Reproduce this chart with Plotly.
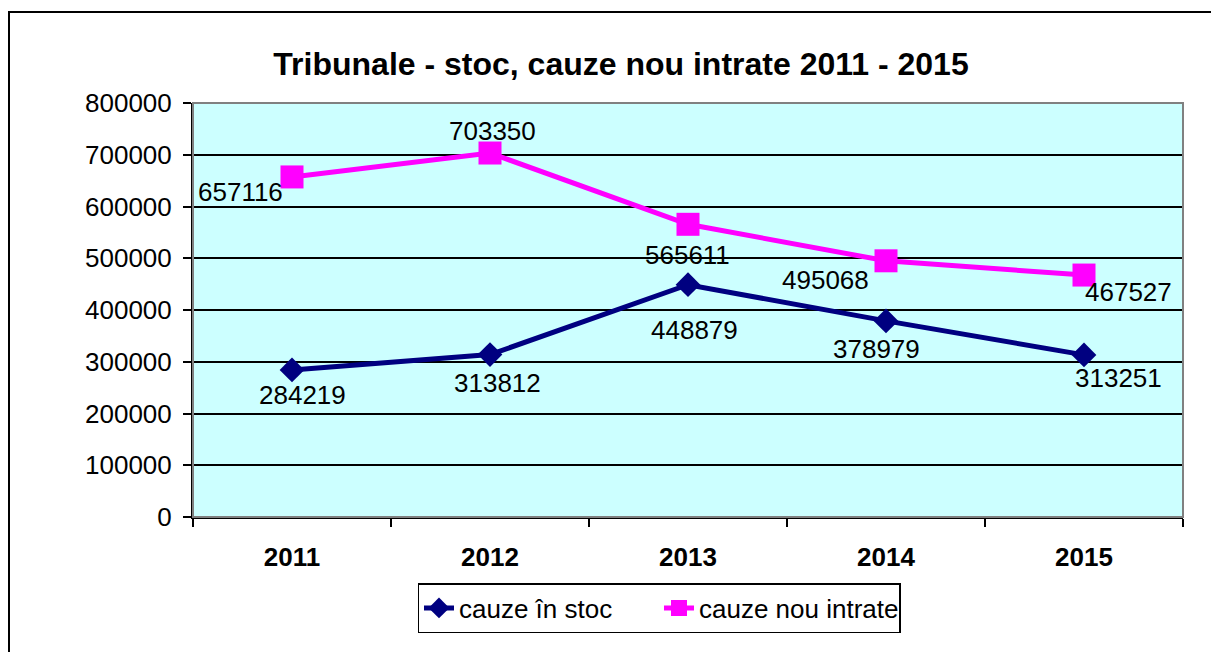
import plotly.graph_objects as go

years = ["2011", "2012", "2013", "2014", "2015"]
stoc = [284219, 313812, 448879, 378979, 313251]
nou = [657116, 703350, 565611, 495068, 467527]
y_ticks = [0, 100000, 200000, 300000, 400000, 500000, 600000, 700000, 800000]

FONT = "Liberation Sans, Arial, sans-serif"

# label offsets (pixels) for each point
stoc_shift = [(10, -25), (7, -28), (6, -45), (-10, -28), (34, -23)]
nou_shift = [(-52, -15), (2, 22), (-1, -31), (-61, -19), (44, -17)]

fig = go.Figure()
fig.add_trace(go.Scatter(
    x=years, y=stoc, mode="lines+markers", name="cauze în stoc",
    line=dict(color="#000080", width=5),
    marker=dict(symbol="diamond", size=19, color="#000080"),
))
fig.add_trace(go.Scatter(
    x=years, y=nou, mode="lines+markers", name="cauze nou intrate",
    line=dict(color="#FF00FF", width=5),
    marker=dict(symbol="square", size=23, color="#FF00FF"),
))

annotations = []
for vals, shifts in [(stoc, stoc_shift), (nou, nou_shift)]:
    for i, (v, (dx, dy)) in enumerate(zip(vals, shifts)):
        annotations.append(dict(
            x=i, y=v, xref="x", yref="y", text=str(v), showarrow=False,
            xshift=dx, yshift=dy, font=dict(family=FONT, size=26, color="black"),
        ))

shapes = [
    # outer chart frame
    dict(type="rect", xref="paper", yref="paper",
         x0=(9 - 193) / 990, x1=(1225 - 193) / 990,
         y0=(517 - 665) / 414, y1=(517 - 12) / 414,
         line=dict(color="black", width=2), fillcolor="rgba(0,0,0,0)", layer="below"),
    # plot area border (gray)
    dict(type="rect", xref="paper", yref="paper", x0=0, x1=1, y0=0, y1=1,
         line=dict(color="#808080", width=2), fillcolor="rgba(0,0,0,0)", layer="above"),
]

fig.update_layout(
    width=1211, height=652,
    margin=dict(l=193, r=28, t=103, b=135),
    paper_bgcolor="white", plot_bgcolor="#CCFFFF",
    title=dict(text="<b>Tribunale - stoc, cauze nou intrate 2011 - 2015</b>",
               x=621 / 1211, xanchor="center", y=1 - 64 / 652, yanchor="middle",
               font=dict(family=FONT, size=32, color="black")),
    font=dict(family=FONT, size=26, color="black"),
    showlegend=True,
    legend=dict(orientation="h", x=(659 - 193) / 990, xanchor="center",
                y=(517 - 583) / 414, yanchor="top",
                bordercolor="black", borderwidth=1.5, bgcolor="white",
                font=dict(family=FONT, size=26, color="black"),
                entrywidth=195, entrywidthmode="pixels",
                tracegroupgap=0),
    annotations=annotations,
    shapes=shapes,
)
fig.update_xaxes(
    type="category", showgrid=False, showline=True, linecolor="black", linewidth=2,
    ticks="outside", tickson="boundaries", ticklen=8, tickcolor="black", tickwidth=1.5,
    tickfont=dict(family=FONT, size=26, color="black"),
    ticktext=["<b>%s</b>" % y for y in years], tickvals=years,
    ticklabelstandoff=16,
    range=[-0.5, 4.5], fixedrange=True,
)
fig.update_yaxes(
    range=[0, 800000], tickvals=y_ticks, ticktext=[str(v) for v in y_ticks],
    showgrid=True, gridcolor="black", gridwidth=1.5,
    showline=True, linecolor="black", linewidth=2,
    ticks="outside", ticklen=8, tickcolor="black", tickwidth=1.5,
    ticklabelstandoff=6, fixedrange=True,
    tickfont=dict(family=FONT, size=26, color="black"), zeroline=False,
)

fig.write_html(
    "out.html",
    config={"displayModeBar": False},
    post_script="document.body.style.margin='0';document.body.style.overflow='hidden';",
)
